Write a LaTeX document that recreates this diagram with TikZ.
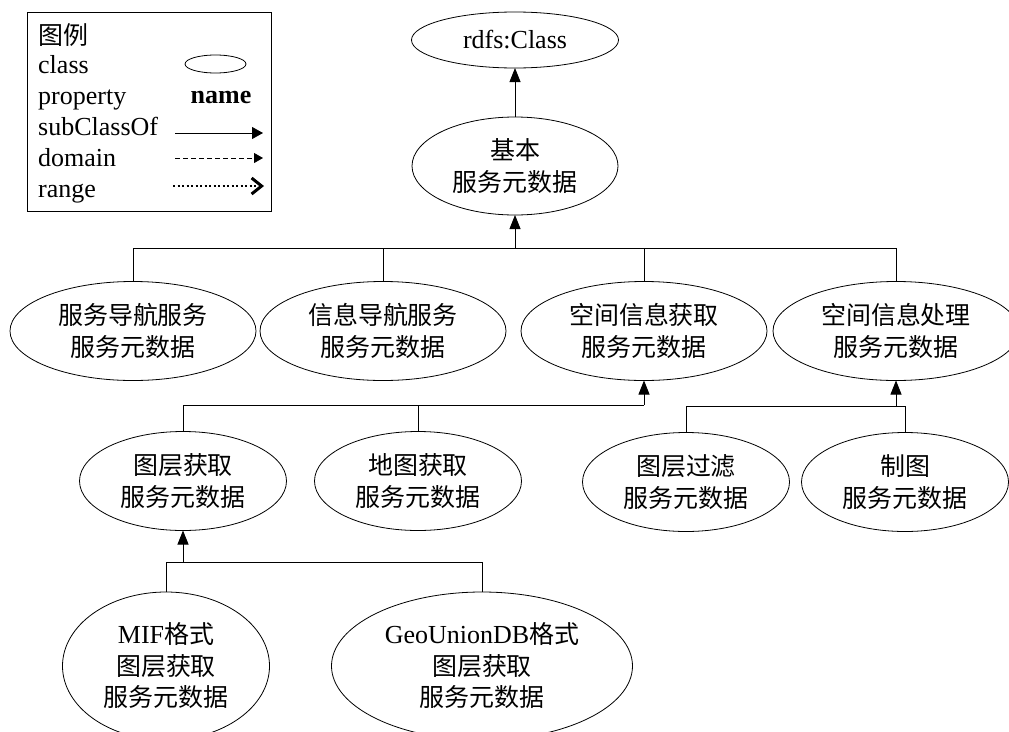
\documentclass[tikz,border=0pt]{standalone}
\usepackage{fontspec}
\setmainfont{Liberation Serif}
\newfontfamily\cjk[Scale=0.96]{Noto Sans CJK SC}
\newcommand\zh[1]{{\cjk #1}}
\usetikzlibrary{shapes.geometric,arrows.meta}
\begin{document}
\begin{tikzpicture}[x=1pt,y=-1pt,
  cls/.style={ellipse, draw, line width=0.8pt, inner sep=0pt, outer sep=0pt,
    align=center, font=\fontsize{26}{31.5}\selectfont},
  lvtwo/.style={cls, minimum width=246pt, minimum height=99pt},
  lvthree/.style={cls, minimum width=207pt, minimum height=99pt},
  lvfour/.style={cls, minimum height=148pt},
  link/.style={line width=0.8pt},
  sub/.style={link, -{Triangle[width=11pt,length=14pt]}},
  lg/.style={anchor=base west, inner sep=0pt, font=\fontsize{26}{31}\selectfont}]
\useasboundingbox (0,0) rectangle (1009,731);
\clip (0,0) rectangle (1009,731);

% classes
\node[cls, minimum width=207pt, minimum height=56pt] (rdfs) at (515,40) {rdfs:Class};
\node[cls, minimum width=206pt, minimum height=98pt] (base) at (515,166) {\zh{基本}\\\zh{服务元数据}};

\node[lvtwo] (s1) at (133,331) {\zh{服务导航服务}\\\zh{服务元数据}};
\node[lvtwo] (s2) at (383,331) {\zh{信息导航服务}\\\zh{服务元数据}};
\node[lvtwo] (s3) at (644,331) {\zh{空间信息获取}\\\zh{服务元数据}};
\node[lvtwo] (s4) at (896,331) {\zh{空间信息处理}\\\zh{服务元数据}};

\node[lvthree] (n1) at (183,481) {\zh{图层获取}\\\zh{服务元数据}};
\node[lvthree] (n2) at (418,481) {\zh{地图获取}\\\zh{服务元数据}};
\node[lvthree] (n3) at (686,482) {\zh{图层过滤}\\\zh{服务元数据}};
\node[lvthree] (n4) at (905,482) {\zh{制图}\\\zh{服务元数据}};

\node[lvfour, minimum width=207pt] (m1) at (166,666) {MIF\zh{格式}\\\zh{图层获取}\\\zh{服务元数据}};
\node[lvfour, minimum width=301pt] (m2) at (482,666) {GeoUnionDB\zh{格式}\\\zh{图层获取}\\\zh{服务元数据}};

% connectors
\draw[sub] (base.north) -- (rdfs.south);

\coordinate (bus1) at (515,248);
\draw[link] (s1.north) -- (s1.north |- bus1) -- (s4.north |- bus1) -- (s4.north);
\draw[link] (s2.north) -- (s2.north |- bus1);
\draw[link] (s3.north) -- (s3.north |- bus1);
\draw[sub] (bus1) -- (base.south);

\coordinate (bus2) at (644,405);
\draw[link] (n1.north) -- (n1.north |- bus2) -- (bus2);
\draw[link] (n2.north) -- (n2.north |- bus2);
\draw[sub] (bus2) -- (s3.south);

\coordinate (bus3) at (896,406);
\draw[link] (n3.north) -- (n3.north |- bus3) -- (n4.north |- bus3) -- (n4.north);
\draw[sub] (bus3) -- (s4.south);

\coordinate (bus4) at (183,562);
\draw[link] (m1.north) -- (m1.north |- bus4) -- (m2.north |- bus4) -- (m2.north);
\draw[sub] (bus4) -- (n1.south);

% legend
\node[draw, line width=1pt, minimum width=244pt, minimum height=199pt,
  anchor=north west, inner sep=0pt] (legend) at (27,12) {};
\node[lg] (lt) at (38,44) {\zh{图例}};
\node[lg] (lc) at (38,73) {class};
\node[lg] (lp) at (38,104) {property};
\node[lg] (ls) at (38,135) {subClassOf};
\node[lg] (ld) at (38,166) {domain};
\node[lg] (lr) at (38,197) {range};
\node[ellipse, draw, line width=0.8pt, minimum width=61pt, minimum height=18pt,
  inner sep=0pt] (le) at (215.5,64) {};
\node[anchor=base, inner sep=0pt, font=\fontsize{26}{31}\selectfont\bfseries] (ln) at (221,103) {name};
\coordinate (sa) at (175,133); \coordinate (sb) at (263,133);
\draw[link, -{Triangle[width=12pt,length=11pt]}] (sa) -- (sb);
\coordinate (da) at (175,158); \coordinate (db) at (263,158);
\draw[link, dash pattern=on 5pt off 3pt, -{Triangle[width=10pt,length=9pt]}] (da) -- (db);
\coordinate (ra) at (173,186); \coordinate (rb) at (264,186);
\draw[line width=2pt, dash pattern=on 2pt off 2.5pt,
  -{Straight Barb[length=10pt,width=16pt,line width=3pt]}] (ra) -- (rb);
\end{tikzpicture}
\end{document}
